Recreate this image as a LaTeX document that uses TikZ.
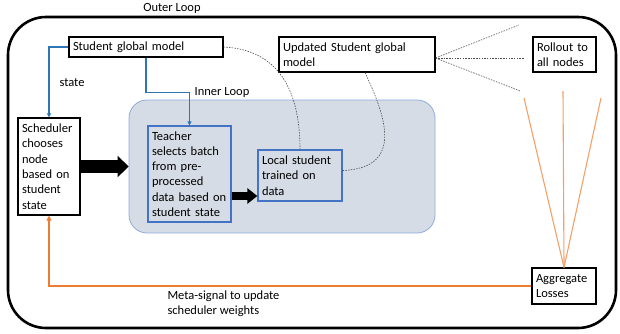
\documentclass[tikz,border=0pt]{standalone}
\usepackage{fontspec}
\setmainfont{Carlito}
\usepackage{xcolor}
\usetikzlibrary{arrows.meta, positioning, calc}
\definecolor{linkblue}{HTML}{2E75B6}
\definecolor{lossorange}{HTML}{ED7D31}
\definecolor{fanorange}{HTML}{F4A06A}
\definecolor{innerfill}{HTML}{D6DCE5}
\definecolor{innerline}{HTML}{8FAADC}
\definecolor{teachline}{HTML}{4472C4}

\begin{document}
\begin{tikzpicture}[x=1pt, y=-1pt,
  font=\fontsize{12.5}{15.3}\selectfont,
  pbox/.style={draw=black, line width=1.2pt, fill=white, align=left, inner xsep=4pt, inner ysep=2pt},
  ibox/.style={draw=teachline, line width=1.2pt, align=left, inner xsep=4pt, inner ysep=2pt},
  bigarrow/.style={-{Triangle[length=11pt, width=21pt]}, line width=13pt},
  smallarrow/.style={-{Triangle[length=10pt, width=15pt]}, line width=8pt},
  bluelink/.style={linkblue, line width=1.3pt, -{Triangle[length=4pt, width=4pt]}},
  dotlink/.style={gray!60!black, line width=0.6pt, dash pattern=on 1.5pt off 1.2pt},
  lossfan/.style={fanorange, line width=1.1pt}
]
  \useasboundingbox (0,0) rectangle (620,333);
  % Outer loop frame
  \draw[line width=2.6pt, rounded corners=38pt] (8,17) rectangle (616,328);
  \node (outerlbl) at (172,8) {Outer Loop};
  % Inner loop region
  \node[draw=innerline, fill=innerfill, line width=0.8pt, rounded corners=18pt,
        minimum width=306pt, minimum height=133pt] (inner) at (282,166.5) {};
  \node (innerlbl) at (222,92) {Inner Loop};
  % Boxes
  \node[pbox, text width=146pt, minimum height=20pt] (sgm) at (146,47) {Student global model};
  \node[pbox, text width=148pt, minimum height=35pt] (usgm) at (357,54.5) {Updated Student global\\model};
  \node[pbox, text width=55pt, minimum height=35pt] (roll) at (564.5,54.5) {Rollout to\\all nodes};
  \node[pbox, text width=54pt, minimum height=97pt] (sched) at (49,166.5) {Scheduler\\chooses\\node\\based on\\student\\state};
  \node[ibox, text width=75pt, minimum height=96pt] (teach) at (189.5,174) {Teacher\\selects batch\\from pre-\\processed\\data based on\\student state};
  \node[ibox, text width=76pt, minimum height=51pt] (local) at (300,175.5) {Local student\\trained on\\data};
  \node[pbox, text width=56pt, minimum height=36pt] (agg) at (564,286) {Aggregate\\Losses};
  % Thick arrows
  \draw[bigarrow] (sched.east) -- (inner.west);
  \draw[smallarrow] ([yshift=-22pt]teach.east) -- ([yshift=-22pt]teach.east -| local.west);
  % State links
  \draw[bluelink] (sgm.west) -| (sched.north);
  \node (statelbl) at (72,83) {state};
  \draw[bluelink] (sgm.south) -- ++(0,35) -| (teach.north);
  % Model updates
  \draw[dotlink] (sgm.east) .. controls (285,50) and (300,100) .. (local.north);
  \draw[dotlink] ([xshift=8pt]usgm.south) .. controls (385,115) and (405,168) .. ([yshift=5pt]local.east);
  % Rollout fan
  \coordinate (r1) at (519,25);
  \coordinate (r2) at (524,58);
  \coordinate (r3) at (520,91);
  \foreach \c in {r1,r2,r3}{
    \draw[dotlink] ([yshift=-3.5pt]usgm.east) -- (\c);
  }
  % Loss fan
  \coordinate (l1) at (524,98);
  \coordinate (l2) at (563,91);
  \coordinate (l3) at (601,98);
  \foreach \c in {l1,l2,l3}{
    \draw[lossfan] (agg.north) -- (\c);
  }
  % Meta-signal back to scheduler
  \draw[lossorange, line width=2pt, -{Triangle[length=5pt, width=5pt]}] (agg.west) -| (sched.south);
  \node[align=left, anchor=west] (metalbl) at (164,304) {Meta-signal to update\\scheduler weights};
\end{tikzpicture}
\end{document}
